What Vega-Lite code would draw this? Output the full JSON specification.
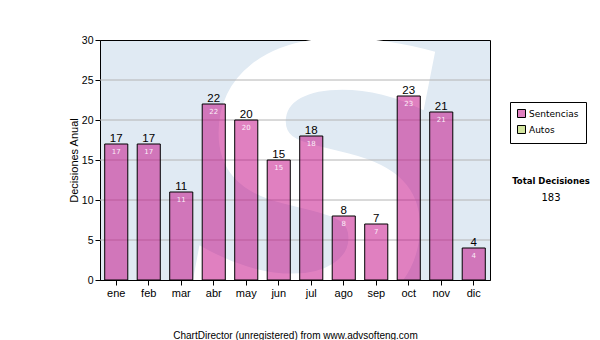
{
  "$schema": "https://vega.github.io/schema/vega-lite/v6.json",
  "width": 390,
  "height": 240,
  "autosize": "none",
  "padding": {"left": 100, "top": 40, "right": 110, "bottom": 60},
  "background": "white",
  "config": {
    "view": {"fill": "#e0eaf3", "stroke": "black", "strokeWidth": 1},
    "axis": {"labelFont": "Liberation Sans", "titleFont": "Liberation Sans", "labelColor": "black", "titleColor": "black", "domainColor": "black", "tickColor": "black"}
  },
  "title": {
    "text": "Total Decisiones",
    "subtitle": "183",
    "anchor": "start",
    "frame": "group",
    "align": "center",
    "dx": 451,
    "dy": 172,
    "font": "DejaVu Sans",
    "fontSize": 8.5,
    "fontWeight": "bold",
    "color": "black",
    "subtitleFont": "DejaVu Sans",
    "subtitleFontSize": 10,
    "subtitleColor": "black",
    "subtitlePadding": 8
  },
  "datasets": {
    "meses": [
      {"mes": "ene", "tipo": "Sentencias", "valor": 17},
      {"mes": "feb", "tipo": "Sentencias", "valor": 17},
      {"mes": "mar", "tipo": "Sentencias", "valor": 11},
      {"mes": "abr", "tipo": "Sentencias", "valor": 22},
      {"mes": "may", "tipo": "Sentencias", "valor": 20},
      {"mes": "jun", "tipo": "Sentencias", "valor": 15},
      {"mes": "jul", "tipo": "Sentencias", "valor": 18},
      {"mes": "ago", "tipo": "Sentencias", "valor": 8},
      {"mes": "sep", "tipo": "Sentencias", "valor": 7},
      {"mes": "oct", "tipo": "Sentencias", "valor": 23},
      {"mes": "nov", "tipo": "Sentencias", "valor": 21},
      {"mes": "dic", "tipo": "Sentencias", "valor": 4}
    ],
    "rejilla": [{"valor": 5}, {"valor": 10}, {"valor": 15}, {"valor": 20}, {"valor": 25}],
    "marca": [{"letra": "S", "mes": "jul", "valor": -5}]
  },
  "encoding": {
    "x": {
      "field": "mes",
      "type": "nominal",
      "sort": ["ene", "feb", "mar", "abr", "may", "jun", "jul", "ago", "sep", "oct", "nov", "dic"],
      "scale": {"domain": ["ene", "feb", "mar", "abr", "may", "jun", "jul", "ago", "sep", "oct", "nov", "dic"], "paddingInner": 0.29, "paddingOuter": 0.145},
      "axis": {"labelAngle": 0, "labelFontSize": 11, "tickSize": 5, "labelPadding": 2, "title": "ChartDirector (unregistered) from www.advsofteng.com", "titleFontSize": 10, "titleFontWeight": "normal", "titlePadding": 32}
    },
    "y": {
      "field": "valor",
      "type": "quantitative",
      "scale": {"domain": [0, 30], "nice": false},
      "axis": {"values": [0, 5, 10, 15, 20, 25, 30], "labelOverlap": false, "grid": false, "tickSize": 5, "labelPadding": 2, "labelFontSize": 10.5, "title": "Decisiones Anual", "titleFontSize": 11, "titleFontWeight": "normal", "titlePadding": 2}
    }
  },
  "layer": [
    {
      "data": {"name": "marca"},
      "mark": {"type": "text", "font": "DejaVu Sans", "fontWeight": "bold", "fontStyle": "italic", "fontSize": 380, "color": "white", "align": "center", "baseline": "alphabetic", "dx": 8, "clip": true},
      "encoding": {
        "text": {"field": "letra"}
      }
    },
    {
      "data": {"name": "rejilla"},
      "mark": {"type": "rule", "color": "#b4b4b4", "strokeWidth": 1},
      "encoding": {
        "x": null
      }
    },
    {
      "data": {"name": "meses"},
      "mark": {"type": "bar", "stroke": "black", "strokeWidth": 1, "fillOpacity": 0.5, "strokeOpacity": 1},
      "encoding": {
        "color": {
          "field": "tipo",
          "type": "nominal",
          "scale": {"domain": ["Sentencias", "Autos"], "range": ["#c10181", "#a8cc40"]},
          "legend": {
            "orient": "none",
            "legendX": 410,
            "legendY": 62,
            "title": null,
            "strokeColor": "black",
            "fillColor": "white",
            "padding": 7,
            "symbolType": "square",
            "symbolSize": 64,
            "symbolStrokeColor": "black",
            "symbolStrokeWidth": 1,
            "labelFont": "DejaVu Sans",
            "labelFontSize": 9,
            "labelColor": "black",
            "labelOffset": 3,
            "rowPadding": 3,
            "encode": {"symbols": {"update": {"fillOpacity": {"value": 0.5}, "stroke": {"value": "black"}}}}
          }
        }
      }
    },
    {
      "data": {"name": "meses"},
      "mark": {"type": "text", "font": "Liberation Sans", "fontSize": 11.5, "color": "black", "baseline": "alphabetic", "dy": -2.5},
      "encoding": {
        "text": {"field": "valor"}
      }
    },
    {
      "data": {"name": "meses"},
      "mark": {"type": "text", "font": "DejaVu Sans", "fontSize": 7, "color": "#fbeef8", "baseline": "top", "dy": 3.5},
      "encoding": {
        "text": {"field": "valor"}
      }
    }
  ]
}
